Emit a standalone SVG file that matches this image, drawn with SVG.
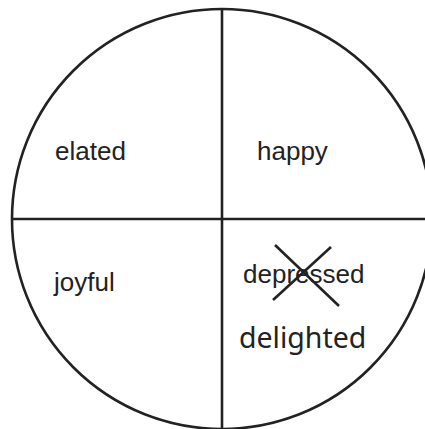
<svg xmlns="http://www.w3.org/2000/svg" width="425" height="429" viewBox="0 0 425 429">
<style>
.ln{stroke:#222;stroke-width:2.6;fill:none}
.t{font-family:"Liberation Sans",Arial,sans-serif;font-size:26px;fill:#222}
.t2{font-family:"Noto Sans",sans-serif;font-size:28.5px;fill:#222}
</style>
<rect width="425" height="429" fill="#fff"/>
<g id="wheel">
<circle class="ln" cx="222" cy="219" r="210"/>
</g>
<g id="connectors">
<line class="ln" x1="222" y1="9" x2="222" y2="429"/>
<line class="ln" x1="11" y1="219" x2="425" y2="219"/>
<line class="ln" x1="275" y1="245" x2="339" y2="306"/>
<line class="ln" x1="331" y1="247" x2="273" y2="300"/>
</g>
<g id="elated"><text class="t" x="55" y="160">elated</text></g>
<g id="happy"><text class="t" x="257" y="160">happy</text></g>
<g id="joyful"><text class="t" x="54" y="291">joyful</text></g>
<g id="depressed"><text class="t" x="243" y="283">depressed</text></g>
<g id="delighted"><text class="t2" x="239" y="348">delighted</text></g>
</svg>
